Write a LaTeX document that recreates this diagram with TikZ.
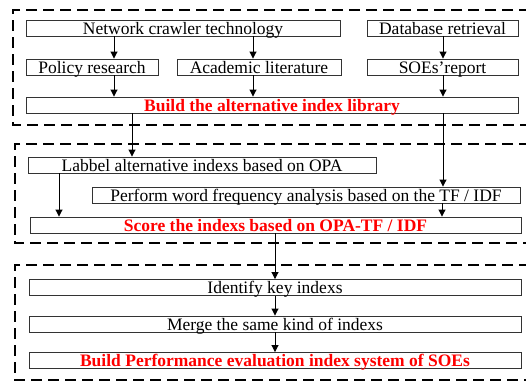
\documentclass[tikz,border=0pt]{standalone}
\usepackage{fontspec}
\setmainfont{Liberation Serif}
\usetikzlibrary{arrows.meta}

\begin{document}
\begin{tikzpicture}[x=1pt,y=-1pt,
  txt/.style={font=\fontsize{17.5}{17.5}\selectfont},
  box/.style={draw=black!80, line width=0.9pt, inner sep=0pt, minimum height=16pt,
              text height=14pt, text depth=2pt, txt},
  keybox/.style={box, text=red, font=\bfseries\fontsize{17.5}{17.5}\selectfont},
  stage/.style={draw=black, line width=1.8pt, dash pattern=on 11pt off 6pt},
  arr/.style={draw=black, line width=0.9pt, -{Triangle[length=7pt,width=7pt]}}]
\useasboundingbox (0,0) rectangle (526,381);

% stage frames
\draw[stage] (530,10) -- (13,10) -- (13,125) -- (530,125);
\draw[stage] (530,144) -- (15,144) -- (15,243) -- (530,243);
\draw[stage] (530,265) -- (15,265) -- (15,380) -- (530,380);

% stage 1: collecting candidate indexes
\node[box, minimum width=314pt] (net)  at (183,28) {Network crawler technology};
\node[box, minimum width=151pt] (db)   at (442.5,28) {Database retrieval};
\node[box, minimum width=132pt] (pol)  at (92,67) {Policy research};
\node[box, minimum width=164pt] (acad) at (259,67) {Academic literature};
\node[box, minimum width=151pt] (soe)  at (442.5,67) {SOEs’report};
\node[keybox, minimum width=492pt] (lib) at (272,105) {Build the alternative index library};

% stage 2: scoring
\node[box, minimum width=348pt] (opa)  at (202,165) {Labbel alternative indexs based on OPA};
\node[box, minimum width=428pt] (tf)   at (306,195) {Perform word frequency analysis based on the TF / IDF};
\node[keybox, minimum width=491pt] (score) at (275.5,225) {Score the indexs based on OPA-TF / IDF};

% stage 3: final system
\node[box, minimum width=492pt] (key)   at (275,287.5) {Identify key indexs};
\node[box, minimum width=492pt] (merge) at (275,324) {Merge the same kind of indexs};
\node[keybox, minimum width=492pt] (sys) at (275,360.5) {Build Performance evaluation index system of SOEs};

% connector columns
\coordinate (xa) at (114,0);
\coordinate (xb) at (253,0);
\coordinate (xc) at (443,0);
\coordinate (xd) at (132,0);
\coordinate (xe) at (59,0);
\coordinate (xf) at (442,0);
\coordinate (xg) at (275,0);

\draw[arr] (net.south -| xa) -- (pol.north -| xa);
\draw[arr] (net.south -| xb) -- (acad.north -| xb);
\draw[arr] (db.south -| xc) -- (soe.north -| xc);
\draw[arr] (pol.south -| xa) -- (lib.north -| xa);
\draw[arr] (acad.south -| xb) -- (lib.north -| xb);
\draw[arr] (soe.south -| xc) -- (lib.north -| xc);

\draw[arr] (lib.south -| xd) -- (opa.north -| xd);
\draw[arr] (lib.south -| xc) -- (tf.north -| xc);
\draw[arr] (opa.south -| xe) -- (score.north -| xe);
\draw[arr] (tf.south -| xf) -- (score.north -| xf);

\draw[arr] (score.south -| xg) -- (key.north -| xg);
\draw[arr] (key.south -| xg) -- (merge.north -| xg);
\draw[arr] (merge.south -| xg) -- (sys.north -| xg);
\end{tikzpicture}
\end{document}
